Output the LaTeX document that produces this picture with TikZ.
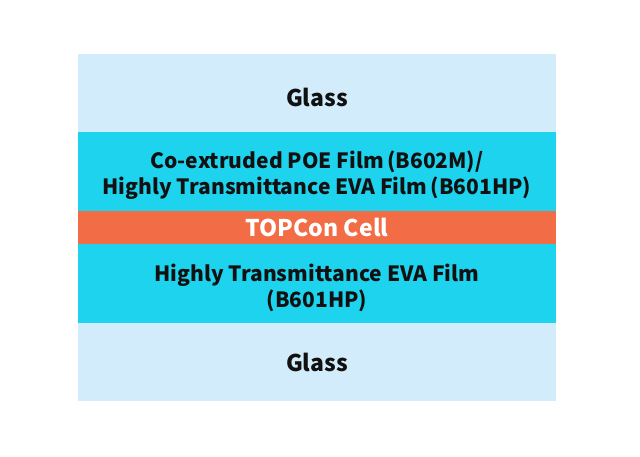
\documentclass[tikz,border=0pt]{standalone}
\usepackage{fontspec}
\setmainfont{Noto Sans CJK SC}
\usepackage{tikz}
\usetikzlibrary{positioning}
\definecolor{glassblue}{HTML}{D2ECFC}
\definecolor{filmcyan}{HTML}{1DD3EE}
\definecolor{cellorange}{HTML}{F26C46}
\definecolor{labeltext}{HTML}{111111}

\begin{document}
\begin{tikzpicture}[x=1pt, y=-1pt, inner sep=0pt, outer sep=0pt]
   \useasboundingbox (0,0) rectangle (640,456);
   \begin{scope}[every node/.style={rectangle,minimum width=478pt}]
    \node[fill=glassblue, minimum height=78pt] (g1) at (317,93) {};
    \node[fill=filmcyan, minimum height=79pt] (f1) at (317,171.5) {};
    \node[fill=cellorange, minimum height=33pt] (c1) at (317,227.5) {};
    \node[fill=filmcyan, minimum height=79pt] (f2) at (317,283.5) {};
    \node[fill=glassblue, minimum height=78pt] (g2) at (317,362) {};
   \end{scope}
   \begin{scope}[every node/.style={text=labeltext,align=center,
       font=\fontsize{21}{26}\selectfont\bfseries}]
    \node[yshift=-4pt, font=\fontsize{23}{26}\selectfont\bfseries] (g1t) at (g1) {Glass};
    \node[yshift=-4pt] (f1t) at (f1) {Co-extruded POE Film\,(B602M)/\\Highly Transmittance EVA Film\,(B601HP)};
    \node[text=white, font=\fontsize{23}{26}\selectfont\bfseries] (c1t) at (c1) {TOPCon Cell};
    \node[yshift=-4pt] (f2t) at (f2) {Highly Transmittance EVA Film\\(B601HP)};
    \node[font=\fontsize{23}{26}\selectfont\bfseries] (g2t) at (g2) {Glass};
   \end{scope}
\end{tikzpicture}
\end{document}
